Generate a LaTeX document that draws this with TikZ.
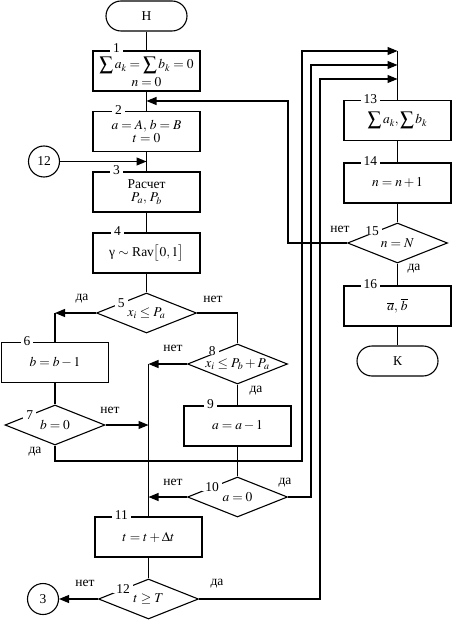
\documentclass[tikz,border=0pt]{standalone}
\usepackage{mathptmx}
\usepackage{fontspec}
\setmainfont{Liberation Serif}
\usetikzlibrary{arrows.meta,shapes.geometric,calc}
\begin{document}
\begin{tikzpicture}[x=1pt,y=-1pt,line width=1.1pt,
  font=\fontsize{13.5}{14.5}\selectfont,
  box/.style={draw,minimum width=107pt,minimum height=40pt,inner sep=1pt,align=center},
  dec/.style={draw,diamond,aspect=2.5,minimum width=100pt,minimum height=40pt,inner sep=0pt},
  term/.style={draw,rounded corners=15pt,minimum width=81pt,minimum height=30pt},
  conn/.style={draw,circle,minimum size=31pt,inner sep=0pt},
  num/.style={fill=white,inner xsep=3pt,inner ysep=0pt},
  lab/.style={inner sep=0pt},
  arr/.style={-{Triangle[length=10pt,width=8pt]}}]
\useasboundingbox (0,0) rectangle (452,620);
% left/main column
\node[term] (H) at (146.5,16) {Н};
\node[box] (b1) at (146.5,71) {};
\node[inner sep=0pt] (b1a) at (146.5,65.5) {$\displaystyle\sum\nolimits a_k=\sum\nolimits b_k=0$};
\node[inner sep=0pt] (b1b) at (146.5,82) {$n=0$};
\node[box] (b2) at (146.5,131.5) {$a=A,\,b=B$\\[-1pt]$t=0$};
\node[box] (b3) at (146.5,192) {Расчет\\[-1pt]$P_a,\,P_b$};
\node[box] (b4) at (146.5,253) {γ $\sim$ Rav$\bigl[0,1\bigr]$};
\node[dec] (d5) at (146.5,313) {$x_i\le P_a$};
\node[box] (b6) at (55,362.5) {$b=b-1$};
\node[dec] (d7) at (55,425) {$b=0$};
\node[dec] (d8) at (237.5,364) {$x_i\le P_b+P_a$};
\node[box] (b9) at (237.5,426) {$a=a-1$};
\node[dec] (d10) at (237.5,497) {$a=0$};
\node[box] (b11) at (148.5,537) {$t=t+\Delta t$};
\node[dec] (d12) at (148.5,599) {$t\ge T$};
\node[conn] (c12) at (44,161.5) {12};
\node[conn] (c3) at (43,599) {3};
% right column
\node[box] (b13) at (397.5,120.5) {$\displaystyle\sum\nolimits a_k,\sum\nolimits b_k$};
\node[box] (b14) at (397.5,183) {$n=n+1$};
\node[dec] (d15) at (397.5,243) {$n=N$};
\node[box] (b16) at (397.5,306) {$\overline{a},\,\overline{b}$};
\node[term] (K) at (397.5,361) {К};
% coordinates
\coordinate (j12) at (146.5,101);
\coordinate (j23) at (146.5,161.5);
\coordinate (c5l) at (55,313);
\coordinate (v8) at (148.5,364);
\coordinate (j7) at (148.5,425);
\coordinate (v10) at (148.5,497);
\coordinate (r1b) at (302,461);
\coordinate (r1) at (302,51);
\coordinate (t1) at (397.5,51);
\coordinate (r2) at (311,65);
\coordinate (t2) at (397.5,65);
\coordinate (r3) at (320,79);
\coordinate (t3) at (397.5,79);
\coordinate (l15) at (288,243);
% connectors
\draw (H) -- (b1);
\draw (b1) -- (b2);
\draw[arr] (d15.west) -- (l15) |- (j12);
\draw (b2) -- (b3);
\draw[arr] (c12) -- (j23);
\draw (b3) -- (b4);
\draw (b4) -- (d5);
\draw[arr] (d5.west) -- (c5l);
\draw (c5l) -- (b6.north);
\draw (d5.east) -| (d8.north);
\draw (b6) -- (d7);
\draw[arr] (d7.east) -- (j7);
\draw[arr] (d7.south) |- (r1b) -- (r1) -- (t1);
\draw[arr] (d8.west) -- (v8);
\draw (v8) -- (b11.north);
\draw (d8) -- (b9);
\draw (b9) -- (d10);
\draw[arr] (d10.west) -- (v10);
\draw[arr] (d10.east) -| (r2) -- (t2);
\draw (b11) -- (d12);
\draw[arr] (d12.west) -- (c3);
\draw[arr] (d12.east) -| (r3) -- (t3);
\draw (t1) -- (b13.north);
\draw (b13) -- (b14);
\draw (b14) -- (d15);
\draw (d15) -- (b16);
\draw (b16) -- (K);
% numbers
\node[num] at ($(b1.north west)+(24,-2)$) {1};
\node[num] at ($(b2.north west)+(26,-1)$) {2};
\node[num] at ($(b3.north west)+(24,-1)$) {3};
\node[num] at ($(b4.north west)+(25,-1)$) {4};
\node[num] at ($(b6.north west)+(26,-1)$) {6};
\node[num] at ($(b9.north west)+(27,-1)$) {9};
\node[num] at ($(b11.north west)+(27,-1)$) {11};
\node[num] at ($(b13.north west)+(27,-1)$) {13};
\node[num] at ($(b14.north west)+(27,-1)$) {14};
\node[num] at ($(b16.north west)+(27,-1)$) {16};
\node[num] at ($(d5.west)!0.5!(d5.north)$) {5};
\node[num] at ($(d7.west)!0.5!(d7.north)$) {7};
\node[num] at ($(d8.west)!0.5!(d8.north)+(0,-3)$) {8};
\node[num] at ($(d10.west)!0.5!(d10.north)$) {10};
\node[num] at ($(d12.west)!0.5!(d12.north)$) {12};
\node[num] at ($(d15.west)!0.5!(d15.north)+(0,-2)$) {15};
% branch labels
\node[lab] at (82,299) {да};
\node[lab] at (213,299) {нет};
\node[lab] at (110,410) {нет};
\node[lab] at (35,452) {да};
\node[lab] at (173,348) {нет};
\node[lab] at (256,391) {да};
\node[lab] at (173,482) {нет};
\node[lab] at (285,483) {да};
\node[lab] at (85,583) {нет};
\node[lab] at (217,584) {да};
\node[lab] at (340,229) {нет};
\node[lab] at (414,269) {да};
\end{tikzpicture}
\end{document}
